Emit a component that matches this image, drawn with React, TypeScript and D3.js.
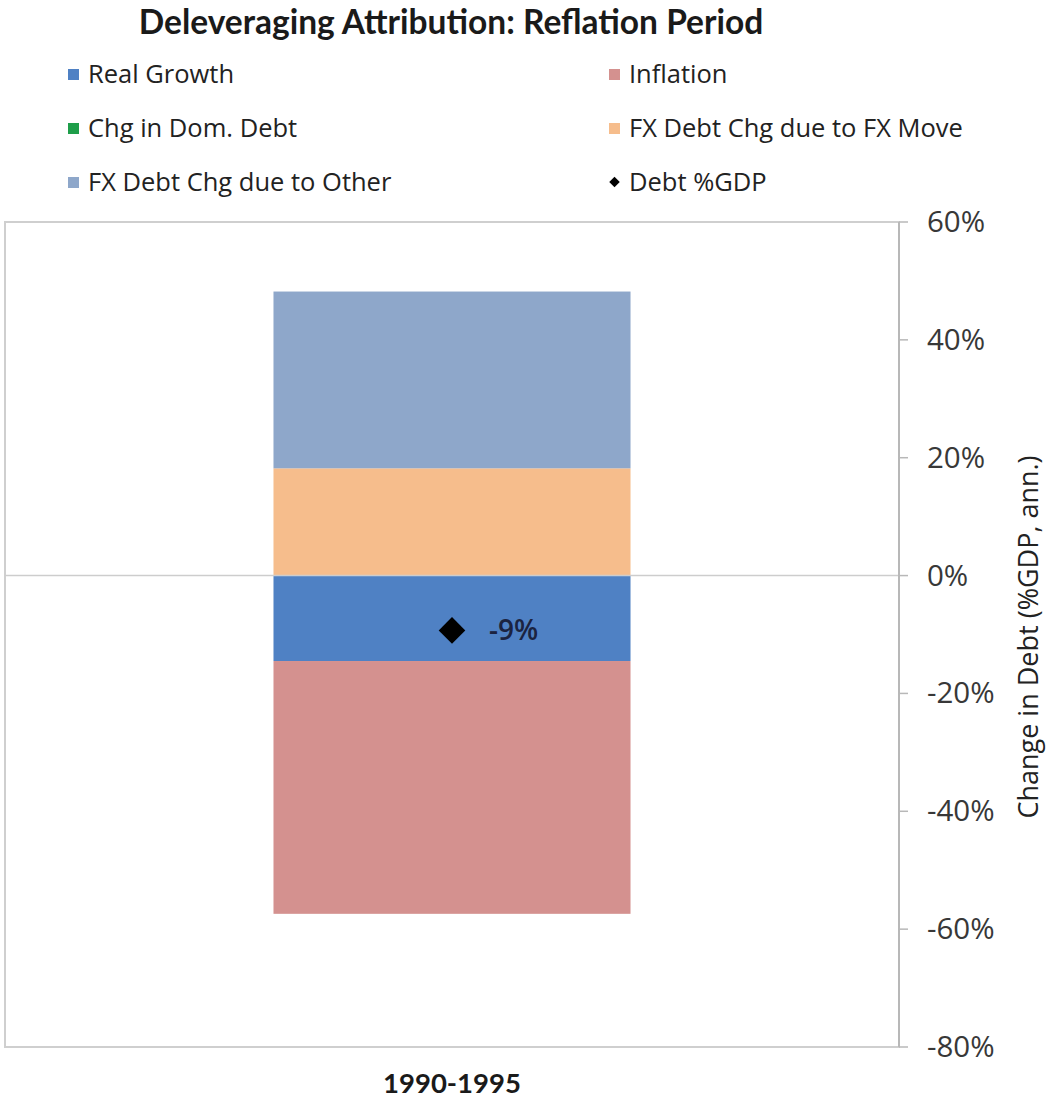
import React from "react";
import * as d3 from "d3";

const categories = ["1990-1995"];
const seriesNames = ["Real Growth", "Inflation", "Chg in Dom. Debt", "FX Debt Chg due to FX Move", "FX Debt Chg due to Other"];
const seriesColors = ["#4f81c4", "#d4918f", "#1e9e4a", "#f6bd8c", "#8ea7ca"];
const realGrowth = [-14.5];
const inflation = [-42.9];
const domDebt = [0];
const fxMove = [18.2];
const fxOther = [30.0];
const debtGdp = [-9.3];
const debtLabels = ["-9%"];
const yTicks = [60, 40, 20, 0, -20, -40, -60, -80];

const legendItems = [
  { name: "Real Growth", color: "#4f81c4", kind: "sq" },
  { name: "Inflation", color: "#d4918f", kind: "sq" },
  { name: "Chg in Dom. Debt", color: "#1e9e4a", kind: "sq" },
  { name: "FX Debt Chg due to FX Move", color: "#f6bd8c", kind: "sq" },
  { name: "FX Debt Chg due to Other", color: "#8ea7ca", kind: "sq" },
  { name: "Debt %GDP", color: "#000", kind: "diamond" },
];

export default function App() {
  const W = 1046, H = 1101;
  const left = 5, right = 899, top = 222, bottom = 1047;
  const titleFont = "Lato, sans-serif";
  const font = "'Open Sans', Lato, sans-serif";

  const y = d3.scaleLinear().domain([-80, 60]).range([bottom, top]);
  const x = d3.scaleBand().domain(categories).range([left, right]).paddingInner(0).paddingOuter(0.752);

  const rows = categories.map((c, i) => ({
    cat: c,
    "Real Growth": realGrowth[i],
    "Inflation": inflation[i],
    "Chg in Dom. Debt": domDebt[i],
    "FX Debt Chg due to FX Move": fxMove[i],
    "FX Debt Chg due to Other": fxOther[i],
  }));
  const stack = d3.stack<any>().keys(seriesNames).offset(d3.stackOffsetDiverging);
  const stacked = stack(rows);

  const diamond = d3.symbol().type(d3.symbolDiamond2).size(450)();
  const legDiamond = d3.symbol().type(d3.symbolDiamond2).size(70)();

  return (
    <svg width={W} height={H} style={{ position: "absolute", left: 0, top: 0, background: "#fff" }} fontFamily={font}>
      <text x={451} y={34} textAnchor="middle" fontSize={33.5} fontWeight={700} fill="#1a1a1a" fontFamily={titleFont}>
        Deleveraging Attribution: Reflation Period
      </text>
      {legendItems.map((it, i) => {
        const col = i % 2, row = Math.floor(i / 2);
        const lx = col === 0 ? 68 : 609;
        const ly = 74 + row * 54;
        return (
          <g key={it.name}>
            {it.kind === "sq" ? (
              <rect x={lx} y={ly - 5} width={11} height={11} fill={it.color} />
            ) : (
              <path d={legDiamond!} transform={`translate(${lx + 5.5},${ly})`} fill={it.color} />
            )}
            <text x={lx + 20} y={ly + 9} fontSize={25.5} fill="#222">{it.name}</text>
          </g>
        );
      })}

      {/* plot box */}
      <rect x={left} y={top} width={right - left} height={bottom - top} fill="none" stroke="#cfcfcf" strokeWidth={2} />

      {/* bars */}
      {stacked.map((s, si) =>
        s.map((d, di) => {
          const y0 = y(Math.max(d[0], d[1]));
          const y1 = y(Math.min(d[0], d[1]));
          if (y1 - y0 <= 0) return null;
          return (
            <rect key={`${si}-${di}`} x={x(categories[di])!} width={x.bandwidth()} y={y0} height={y1 - y0} fill={seriesColors[si]} />
          );
        })
      )}

      {/* zero line */}
      <line x1={left} x2={right} y1={y(0)} y2={y(0)} stroke="#cdcdcd" strokeWidth={1.5} />

      {/* right axis */}
      <line x1={right} x2={right} y1={top} y2={bottom} stroke="#b8b8b8" strokeWidth={2} />
      {yTicks.map((t) => (
        <g key={t}>
          <line x1={right} x2={right + 9} y1={y(t)} y2={y(t)} stroke="#b8b8b8" strokeWidth={1.5} />
          <text x={927} y={y(t) + 10} fontSize={29.5} fill="#383838">{`${t}%`}</text>
        </g>
      ))}
      <text transform={`translate(1038,${637}) rotate(-90)`} textAnchor="middle" fontSize={27} fill="#222">
        Change in Debt (%GDP, ann.)
      </text>

      {/* debt markers */}
      {categories.map((c, i) => {
        const cx = x(c)! + x.bandwidth() / 2;
        const cy = y(debtGdp[i]);
        return (
          <g key={c}>
            <path d={diamond!} transform={`translate(${cx},${cy})`} fill="#000" />
            <text x={cx + 37} y={cy + 10} fontSize={28} fontWeight={600} fill="#1b2340">{debtLabels[i]}</text>
          </g>
        );
      })}

      {categories.map((c) => (
        <text key={c} x={x(c)! + x.bandwidth() / 2} y={1093} textAnchor="middle" fontSize={27.5} fontWeight={700} fill="#1a1a1a" fontFamily={titleFont}>{c}</text>
      ))}
    </svg>
  );
}
